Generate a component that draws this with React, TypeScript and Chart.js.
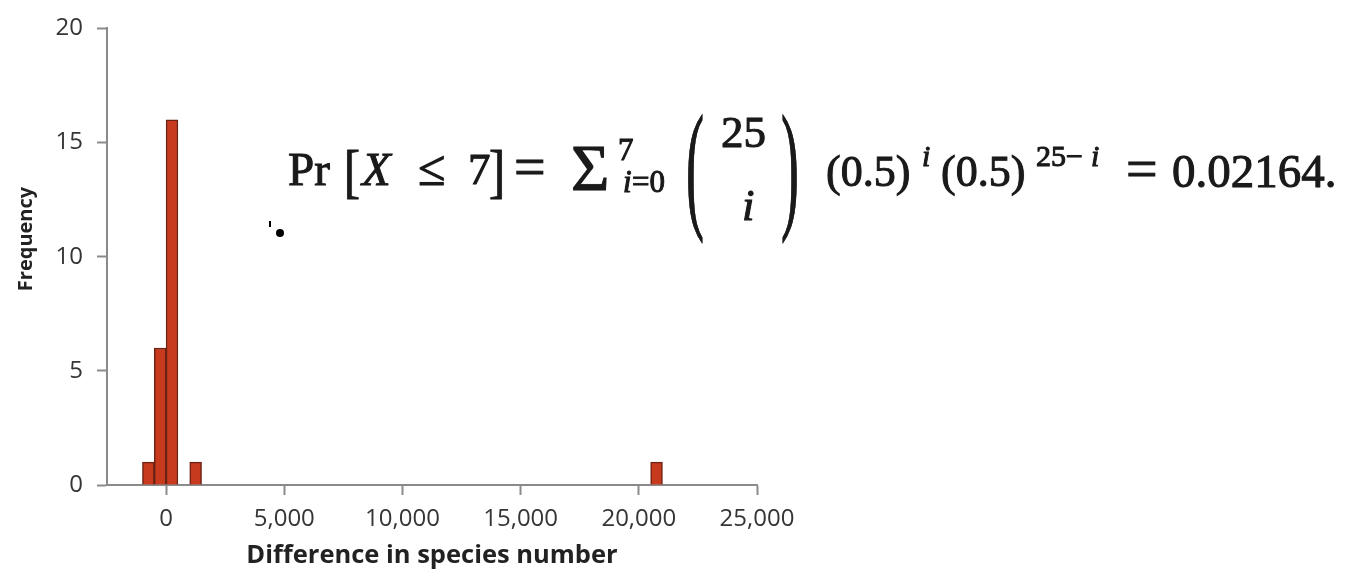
import React, { useEffect, useRef } from "react";
import { Chart, registerables } from "chart.js";

Chart.register(...registerables);

// ---- data ----
const binCenters = [-750, -250, 250, 1250, 20750]; // histogram bins, width 500
const frequencies = [1, 6, 16, 1, 1];
const xTickValues = [0, 5000, 10000, 15000, 20000, 25000];
const yTickValues = [0, 5, 10, 15, 20];
const xTitle = "Difference in species number";
const yTitle = "Frequency";

// ---- formula overlay (text pieces) ----
type Piece = { t: string; x: number; b: number; s: number; it?: boolean; sx?: number };
const formula: Piece[] = [
  { t: "Pr", x: 288, b: 185, s: 47 },
  { t: "[", x: 344, b: 191, s: 60, sx: 0.8 },
  { t: "X", x: 362, b: 185, s: 47, it: true },
  { t: "≤", x: 418, b: 185, s: 50 },
  { t: "7", x: 468, b: 185, s: 45 },
  { t: "]", x: 489, b: 191, s: 60, sx: 0.8 },
  { t: "=", x: 514, b: 186, s: 56 },
  { t: "Σ", x: 571, b: 190, s: 66 },
  { t: "7", x: 618, b: 160, s: 31 },
  { t: "i", x: 623, b: 192, s: 31, it: true },
  { t: "=0", x: 632, b: 192, s: 31 },
  { t: "(", x: 686, b: 213, s: 142, sx: 0.38 },
  { t: "25", x: 721, b: 148, s: 45 },
  { t: "i", x: 742, b: 221, s: 45, it: true },
  { t: ")", x: 781, b: 213, s: 142, sx: 0.38 },
  { t: "(0.5)", x: 826, b: 187, s: 44 },
  { t: "i", x: 922, b: 166, s: 30, it: true },
  { t: "(0.5)", x: 941, b: 187, s: 44 },
  { t: "25−", x: 1036, b: 166, s: 30 },
  { t: "i", x: 1091, b: 166, s: 30, it: true },
  { t: "=", x: 1126, b: 188, s: 56 },
  { t: "0.02164.", x: 1172, b: 187, s: 47 },
];

const AXIS = "#8a8a8a";

const yTitlePlugin = {
  id: "yTitleText",
  afterDraw(chart: any) {
    const ctx = chart.ctx;
    ctx.save();
    ctx.translate(26, 239);
    ctx.rotate(-Math.PI / 2);
    ctx.font = 'bold 20px "Open Sans", sans-serif';
    ctx.fillStyle = "#222";
    ctx.textAlign = "center";
    ctx.textBaseline = "middle";
    ctx.fillText(yTitle, 0, 0);
    ctx.restore();
  },
};

export default function App() {
  const ref = useRef<HTMLCanvasElement | null>(null);

  useEffect(() => {
    const canvas = ref.current;
    if (!canvas) return;
    Chart.defaults.font.family = '"Open Sans", sans-serif';
    const chart = new Chart(canvas, {
      type: "bar",
      data: {
        datasets: [
          {
            data: binCenters.map((x, i) => ({ x, y: frequencies[i] })),
            backgroundColor: "#c73a1e",
            borderColor: "#6c2214",
            borderWidth: 1.5,
            barPercentage: 1,
            categoryPercentage: 1,
          },
        ],
      },
      plugins: [yTitlePlugin],
      options: {
        animation: false,
        responsive: false,
        layout: { padding: { left: 0, top: 25, right: 604, bottom: 0 } },
        plugins: { legend: { display: false }, tooltip: { enabled: false } },
        scales: {
          x: {
            type: "linear",
            min: -2500,
            max: 25000,
            offset: false,
            afterBuildTicks: (s: any) => {
              s.ticks = xTickValues.map((v) => ({ value: v }));
            },
            afterFit: (s: any) => {
              s.height = 91;
            },
            grid: {
              offset: false,
              drawOnChartArea: false,
              drawTicks: true,
              tickLength: 10,
              tickWidth: 2,
              tickColor: AXIS,
            },
            border: { color: AXIS, width: 2 },
            ticks: {
              autoSkip: false,
              maxRotation: 0,
              padding: 10,
              color: "#353535",
              font: { size: 24 },
              callback: (v: any) => Number(v).toLocaleString("en-US"),
            },
            title: {
              display: true,
              text: xTitle,
              color: "#222",
              font: { size: 25.5, weight: "bold" },
              padding: { top: 0, bottom: 5 },
            },
          },
          y: {
            type: "linear",
            min: 0,
            max: 20,
            afterBuildTicks: (s: any) => {
              s.ticks = yTickValues.map((v) => ({ value: v }));
            },
            afterFit: (s: any) => {
              s.width = 107;
            },
            grid: {
              drawOnChartArea: false,
              drawTicks: true,
              tickLength: 10,
              tickWidth: 2,
              tickColor: AXIS,
            },
            border: { color: AXIS, width: 2 },
            ticks: {
              padding: 14,
              color: "#353535",
              font: { size: 24 },
            },
            title: { display: false },
          },
        },
      },
    });
    return () => chart.destroy();
  }, []);

  return (
    <div style={{ position: "absolute", left: 0, top: 0, width: 1361, height: 576, background: "#fff", overflow: "hidden" }}>
      <canvas ref={ref} width={1361} height={576} style={{ display: "block" }} />
      <div style={{ position: "absolute", left: 0, top: 0, width: 1361, height: 576, pointerEvents: "none" }}>
        {formula.map((p, i) => (
          <span
            key={i}
            style={{
              position: "absolute",
              left: p.x,
              top: p.b - 0.8375 * p.s,
              fontFamily: '"Liberation Serif", "DejaVu Serif", serif',
              fontSize: p.s,
              lineHeight: `${p.s}px`,
              fontStyle: p.it ? "italic" : "normal",
              color: "#1a1a1a",
              whiteSpace: "pre",
              transform: p.sx ? `scaleX(${p.sx})` : undefined,
              transformOrigin: "left center",
              WebkitTextStroke: "0.9px #1a1a1a",
              textShadow: "0 0 1px #333",
            }}
          >
            {p.t}
          </span>
        ))}
        <div style={{ position: "absolute", left: 276, top: 229, width: 8, height: 8, borderRadius: 4, background: "#000" }} />
        <div style={{ position: "absolute", left: 269, top: 221, width: 2, height: 6, background: "#000" }} />
      </div>
    </div>
  );
}
